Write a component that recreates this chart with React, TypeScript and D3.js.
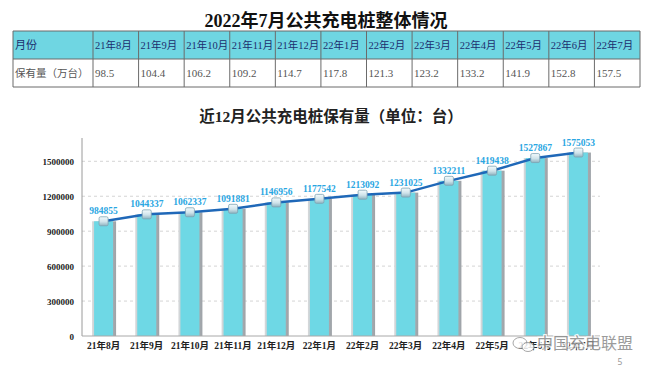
import * as d3 from "d3";

// table
const tableMonths = ["21年8月", "21年9月", "21年10月", "21年11月", "21年12月", "22年1月", "22年2月", "22年3月", "22年4月", "22年5月", "22年6月", "22年7月"];
const tableValues = ["98.5", "104.4", "106.2", "109.2", "114.7", "117.8", "121.3", "123.2", "133.2", "141.9", "152.8", "157.5"];

// chart
const months = ["21年8月", "21年9月", "21年10月", "21年11月", "21年12月", "22年1月", "22年2月", "22年3月", "22年4月", "22年5月", "22年6月", "22年7月"];
const piles = [984855, 1044337, 1062337, 1091881, 1146956, 1177542, 1213092, 1231025, 1332211, 1419438, 1527867, 1575053];
const yTicks = [0, 300000, 600000, 900000, 1200000, 1500000];

const W = 660;
const H = 387;
const serif = '"Liberation Serif", "DejaVu Serif", "Noto Sans CJK SC", serif';

export default function App() {
  // table geometry
  const tLeft = 13;
  const firstCol = 80;
  const tRight = 640;
  const rowTop = 31;
  const rowH = 28;
  const colW = (tRight - tLeft - firstCol) / tableMonths.length;

  // plot geometry
  const plot = { left: 82, right: 600, top: 138, bottom: 336 };
  const x = d3.scaleBand<string>().domain(months).range([plot.left, plot.right]).paddingInner(0.56).paddingOuter(0.28);
  const y = d3.scaleLinear().domain([0, 1700000]).range([plot.bottom, plot.top]);

  const line = d3
    .line<number>()
    .x((_, i) => (x(months[i]) ?? 0) + x.bandwidth() / 2)
    .y((d) => y(d));

  const bw = x.bandwidth();

  return (
    <svg width={W} height={H} style={{ position: "absolute", left: 0, top: 0, background: "#fff" }}>
      <defs>
        <linearGradient id="mk" x1="0" y1="0" x2="0" y2="1">
          <stop offset="0%" stopColor="#f4fbfd" />
          <stop offset="55%" stopColor="#cfe3ea" />
          <stop offset="100%" stopColor="#8fb3c0" />
        </linearGradient>
        <linearGradient id="shadow" x1="0" y1="0" x2="1" y2="0">
          <stop offset="0%" stopColor="#d5d8da" />
          <stop offset="100%" stopColor="#9ea3a8" />
        </linearGradient>
      </defs>

      {/* big title */}
      <text x={326} y={27} textAnchor="middle" fontFamily={serif} fontWeight="bold" fontSize={18} fill="#111">
        2022年7月公共充电桩整体情况
      </text>

      {/* table */}
      <rect x={tLeft} y={rowTop} width={tRight - tLeft} height={rowH} fill="#6fd6e2" />
      <rect x={tLeft} y={rowTop + rowH} width={tRight - tLeft} height={rowH} fill="#fff" />
      {[0, 1, 2].map((r) => (
        <line key={r} x1={tLeft} x2={tRight} y1={rowTop + r * rowH} y2={rowTop + r * rowH} stroke="#6b6b6b" strokeWidth={1} />
      ))}
      {d3.range(tableMonths.length + 2).map((c) => {
        const cx = c === 0 ? tLeft : tLeft + firstCol + (c - 1) * colW;
        return <line key={c} x1={cx} x2={cx} y1={rowTop} y2={rowTop + 2 * rowH} stroke="#6b6b6b" strokeWidth={1} />;
      })}
      <text x={tLeft + 2} y={rowTop + 18} fontFamily={serif} fontSize={11} fill="#1d2e6e">月份</text>
      <text x={tLeft + 2} y={rowTop + rowH + 18} fontFamily={serif} fontSize={10.5} fill="#555">保有量（万台）</text>
      {tableMonths.map((m, i) => (
        <text key={m} x={tLeft + firstCol + i * colW + 2} y={rowTop + 18} fontFamily={serif} fontSize={10.5} fill="#1d2e6e">
          {m}
        </text>
      ))}
      {tableValues.map((v, i) => (
        <text key={i} x={tLeft + firstCol + i * colW + 2} y={rowTop + rowH + 18} fontFamily={serif} fontSize={11} fill="#555">
          {v}
        </text>
      ))}

      {/* chart title */}
      <text x={331} y={122} textAnchor="middle" fontFamily={serif} fontWeight="bold" fontSize={15.5} fill="#222">
        近12月公共充电桩保有量（单位：台）
      </text>

      {/* grid */}
      {yTicks.filter((t) => t > 0).map((t) => (
        <line key={t} x1={plot.left} x2={plot.right} y1={y(t)} y2={y(t)} stroke="#d4d4d4" strokeDasharray="3,3" />
      ))}
      {yTicks.map((t) => (
        <text key={t} x={plot.left - 8} y={y(t) + 3.5} textAnchor="end" fontFamily={serif} fontWeight="bold" fontSize={9} fill="#222">
          {t}
        </text>
      ))}

      {/* bars */}
      {piles.map((v, i) => {
        const bx = x(months[i]) ?? 0;
        return (
          <g key={i}>
            <rect x={bx - 2} y={y(v)} width={bw + 5} height={plot.bottom - y(v)} fill="url(#shadow)" />
            <rect x={bx} y={y(v)} width={bw} height={plot.bottom - y(v)} fill="#6ed8e5" />
          </g>
        );
      })}

      {/* axes */}
      <line x1={plot.left} x2={plot.left} y1={plot.top} y2={plot.bottom} stroke="#9a9a9a" />
      <line x1={plot.left} x2={plot.right} y1={plot.bottom} y2={plot.bottom} stroke="#a8a8a8" />
      {months.map((m) => (
        <text key={m} x={(x(m) ?? 0) + bw / 2} y={349} textAnchor="middle" fontFamily={serif} fontWeight="bold" fontSize={9.5} fill="#222">
          {m}
        </text>
      ))}

      {/* line */}
      <path d={line(piles) ?? ""} fill="none" stroke="#1f68b8" strokeWidth={2.5} />
      {piles.map((v, i) => {
        const cx = (x(months[i]) ?? 0) + bw / 2;
        return (
          <g key={i}>
            <rect x={cx - 4.5} y={y(v) - 4.5} width={9} height={9} rx={1.5} fill="url(#mk)" stroke="#7fa3b2" strokeWidth={0.8} />
            <text x={cx} y={y(v) - 7} textAnchor="middle" fontFamily={serif} fontWeight="bold" fontSize={9.5} fill="#2aa6e2">
              {v}
            </text>
          </g>
        );
      })}

      {/* watermark */}
      <g opacity={0.85}>
        <ellipse cx={520} cy={343} rx={7} ry={5.5} fill="#fff" stroke="#999" strokeWidth={1} />
        <ellipse cx={528} cy={347} rx={6} ry={4.5} fill="#fff" stroke="#999" strokeWidth={1} />
        <text x={537} y={349} fontFamily='"Noto Sans CJK SC", sans-serif' fontSize={16} fill="#8a8a8a" stroke="#fff" strokeWidth={2.5} paintOrder="stroke">
          中国充电联盟
        </text>
      </g>
      <text x={620} y={365} textAnchor="middle" fontFamily='"Noto Sans", sans-serif' fontSize={8.5} fill="#999">
        5
      </text>
    </svg>
  );
}
